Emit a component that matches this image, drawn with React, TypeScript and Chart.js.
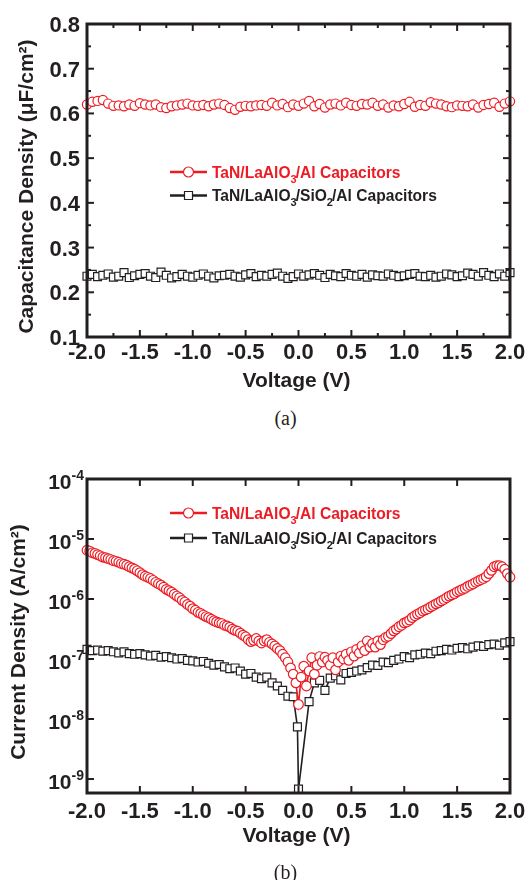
import React, { useEffect, useRef } from 'react';
import { Chart, registerables } from 'chart.js';

Chart.register(...registerables);

const FONT = '"Liberation Sans", Arial, Helvetica, sans-serif';
const RED = '#ed1c24';
const INK = '#231f20';

// ---------- axis ticks ----------
const voltTicks = [-2.0, -1.5, -1.0, -0.5, 0.0, 0.5, 1.0, 1.5, 2.0];
const voltMinor = [-1.75, -1.25, -0.75, -0.25, 0.25, 0.75, 1.25, 1.75];
const capTicks = [0.1, 0.2, 0.3, 0.4, 0.5, 0.6, 0.7, 0.8];
const capMinor = [0.15, 0.25, 0.35, 0.45, 0.55, 0.65, 0.75];
const jDecades = [-4, -5, -6, -7, -8, -9];

// ---------- (a) C-V data, 0.05 V sweep ----------
const cvStart = -2.0;
const cvStep = 0.05;
const capLaAlO = [
  0.620, 0.626, 0.628, 0.630, 0.622, 0.617, 0.618, 0.616, 0.620, 0.617,
  0.623, 0.620, 0.618, 0.620, 0.614, 0.612, 0.616, 0.618, 0.620, 0.622,
  0.618, 0.617, 0.619, 0.616, 0.620, 0.622, 0.619, 0.612, 0.608, 0.615,
  0.617, 0.616, 0.618, 0.619, 0.617, 0.624, 0.618, 0.621, 0.614, 0.620,
  0.617, 0.622, 0.628, 0.616, 0.621, 0.613, 0.620, 0.622, 0.618, 0.624,
  0.619, 0.617, 0.621, 0.620, 0.624, 0.617, 0.620, 0.613, 0.618, 0.616,
  0.621, 0.626, 0.615, 0.619, 0.617, 0.625, 0.622, 0.620, 0.616, 0.614,
  0.618, 0.617, 0.616, 0.620, 0.613, 0.619, 0.621, 0.624, 0.615, 0.622,
  0.627,
];
const capLaAlOSiO = [
  0.236, 0.240, 0.235, 0.238, 0.241, 0.234, 0.236, 0.244, 0.233, 0.237,
  0.240, 0.242, 0.236, 0.233, 0.245, 0.238, 0.232, 0.235, 0.240, 0.236,
  0.234, 0.238, 0.241, 0.236, 0.232, 0.237, 0.238, 0.240, 0.236, 0.234,
  0.239, 0.242, 0.235, 0.238, 0.236, 0.240, 0.243, 0.236, 0.231, 0.235,
  0.241, 0.236, 0.239, 0.242, 0.238, 0.233, 0.240, 0.237, 0.235, 0.242,
  0.238, 0.236, 0.240, 0.234, 0.239, 0.237, 0.236, 0.241, 0.238, 0.235,
  0.237, 0.240, 0.242, 0.236, 0.235, 0.238, 0.234, 0.236, 0.241, 0.239,
  0.235, 0.237, 0.243, 0.240, 0.236, 0.244, 0.238, 0.235, 0.241, 0.236,
  0.244,
];

// ---------- (b) J-V data ----------
const ivStart = -2.0;
const ivStep = 0.025;
const jLaAlO = [
  6.5e-6, 6.3e-6, 5.9e-6, 5.75e-6, 5.5e-6, 5.25e-6, 5.0e-6, 4.9e-6, 4.7e-6, 4.55e-6,
  4.35e-6, 4.25e-6, 4.1e-6, 3.9e-6, 3.8e-6, 3.65e-6, 3.45e-6, 3.3e-6, 3.15e-6, 2.95e-6,
  2.75e-6, 2.55e-6, 2.4e-6, 2.3e-6, 2.2e-6, 2.05e-6, 1.9e-6, 1.8e-6, 1.7e-6, 1.58e-6,
  1.45e-6, 1.38e-6, 1.3e-6, 1.2e-6, 1.12e-6, 1.05e-6, 9.5e-7, 8.9e-7, 8.1e-7, 7.6e-7,
  6.9e-7, 6.5e-7, 6.0e-7, 5.75e-7, 5.4e-7, 5.1e-7, 4.9e-7, 4.6e-7, 4.35e-7, 4.15e-7,
  4.0e-7, 3.9e-7, 3.65e-7, 3.55e-7, 3.4e-7, 3.15e-7, 3.0e-7, 2.9e-7, 2.7e-7, 2.5e-7,
  2.35e-7, 2.1e-7, 1.95e-7, 2.05e-7, 2.2e-7, 2.0e-7, 1.85e-7, 2.0e-7, 2.1e-7, 1.9e-7,
  1.78e-7, 1.65e-7, 1.5e-7, 1.38e-7, 1.2e-7, 1.05e-7, 8.9e-8, 7.1e-8, 5.6e-8, 4.0e-8,
  1.75e-8,
  5.0e-8, 7.6e-8, 3.55e-8, 6.3e-8, 1.05e-7, 5.6e-8, 7.9e-8, 1.1e-7, 8.9e-8, 1.07e-7,
  9.5e-8, 7.9e-8, 1.05e-7, 6.6e-8, 8.9e-8, 1.12e-7, 1.0e-7, 1.2e-7, 9.5e-8, 1.32e-7,
  1.12e-7, 1.45e-7, 1.26e-7, 1.66e-7, 1.38e-7, 2.0e-7, 1.58e-7, 1.82e-7, 1.58e-7, 2.0e-7,
  1.74e-7, 2.1e-7, 2.3e-7, 2.4e-7, 2.65e-7, 2.95e-7, 3.15e-7, 3.45e-7, 3.65e-7, 4.0e-7,
  4.15e-7, 4.45e-7, 4.9e-7, 5.25e-7, 5.6e-7, 5.9e-7, 6.3e-7, 6.6e-7, 6.9e-7, 7.4e-7,
  7.8e-7, 8.3e-7, 8.7e-7, 9.3e-7, 9.8e-7, 1.05e-6, 1.12e-6, 1.17e-6, 1.23e-6, 1.32e-6,
  1.38e-6, 1.45e-6, 1.51e-6, 1.62e-6, 1.7e-6, 1.78e-6, 1.9e-6, 2.0e-6, 2.1e-6, 2.2e-6,
  2.35e-6, 2.65e-6, 3.0e-6, 3.45e-6, 3.6e-6, 3.6e-6, 3.45e-6, 3.15e-6, 2.65e-6, 2.3e-6,
];
const vLaAlOSiO = [
  -2.00, -1.95, -1.90, -1.85, -1.80, -1.75, -1.70, -1.65, -1.60, -1.55,
  -1.50, -1.45, -1.40, -1.35, -1.30, -1.25, -1.20, -1.15, -1.10, -1.05,
  -1.00, -0.95, -0.90, -0.85, -0.80, -0.75, -0.70, -0.65, -0.60, -0.55,
  -0.50, -0.45, -0.40, -0.35, -0.30, -0.25, -0.20, -0.15, -0.10, -0.05,
  -0.01, 0.00,
  0.10, 0.15, 0.20, 0.25, 0.30, 0.35, 0.40, 0.45, 0.50, 0.55,
  0.60, 0.65, 0.70, 0.75, 0.80, 0.85, 0.90, 0.95, 1.00, 1.05,
  1.10, 1.15, 1.20, 1.25, 1.30, 1.35, 1.40, 1.45, 1.50, 1.55,
  1.60, 1.65, 1.70, 1.75, 1.80, 1.85, 1.90, 1.95, 2.00,
];
const jLaAlOSiO = [
  1.45e-7, 1.38e-7, 1.41e-7, 1.35e-7, 1.38e-7, 1.32e-7, 1.26e-7, 1.32e-7, 1.23e-7, 1.2e-7,
  1.23e-7, 1.17e-7, 1.12e-7, 1.15e-7, 1.07e-7, 1.1e-7, 1.05e-7, 1.0e-7, 1.02e-7, 9.5e-8,
  9.3e-8, 8.9e-8, 9.1e-8, 8.5e-8, 7.9e-8, 8.1e-8, 7.4e-8, 6.9e-8, 7.1e-8, 6.3e-8,
  5.6e-8, 5.75e-8, 5.0e-8, 4.7e-8, 5.0e-8, 4.0e-8, 3.55e-8, 3.0e-8, 2.4e-8, 2.35e-8,
  7.4e-9, 6.8e-10,
  1.95e-8, 4.0e-8, 4.4e-8, 3.0e-8, 4.8e-8, 5.25e-8, 4.5e-8, 5.75e-8, 6.0e-8, 6.3e-8,
  6.6e-8, 7.2e-8, 7.9e-8, 7.8e-8, 8.9e-8, 8.7e-8, 9.5e-8, 1.0e-7, 1.1e-7, 1.05e-7,
  1.17e-7, 1.2e-7, 1.26e-7, 1.23e-7, 1.35e-7, 1.38e-7, 1.45e-7, 1.41e-7, 1.51e-7, 1.55e-7,
  1.48e-7, 1.58e-7, 1.66e-7, 1.62e-7, 1.74e-7, 1.78e-7, 1.7e-7, 1.86e-7, 1.95e-7,
];

const seriesRed = [
  { t: 'TaN/LaAlO' }, { t: '3', sub: true }, { t: '/Al Capacitors' },
];
const seriesBlack = [
  { t: 'TaN/LaAlO' }, { t: '3', sub: true }, { t: '/SiO' }, { t: '2', sub: true }, { t: '/Al Capacitors' },
];

function sweepPoints(start: number, step: number, ys: number[]) {
  return ys.map((y, i) => ({ x: Math.round((start + i * step) * 1000) / 1000, y }));
}

type Part = { t: string; sub?: boolean };
type LegendItem = { parts: Part[]; color: string; marker: 'circle' | 'rect'; y: number };
type Decor = {
  yKind: 'linear' | 'pow10';
  xMinor: number[];
  yMajor: number[];
  yMinor: number[];
  xLabelDy: number;
  xTitleY: number;
  yTitle: string;
  yTitleX: number;
  legend: LegendItem[];
};

function drawParts(ctx: CanvasRenderingContext2D, parts: Part[], x: number, y: number, color: string) {
  let cx = x;
  ctx.fillStyle = color;
  ctx.textAlign = 'left';
  ctx.textBaseline = 'alphabetic';
  for (const p of parts) {
    if (p.sub) {
      ctx.font = `bold 11px ${FONT}`;
      ctx.fillText(p.t, cx, y + 5);
      cx += ctx.measureText(p.t).width - 1;
    } else {
      ctx.font = `bold 15.6px ${FONT}`;
      ctx.fillText(p.t, cx, y);
      cx += ctx.measureText(p.t).width;
    }
  }
}

function makeDecor(cfg: Decor) {
  return {
    id: 'decor',
    afterDatasetsDraw(chart: any) {
      const ctx: CanvasRenderingContext2D = chart.ctx;
      const { left, right, top, bottom } = chart.chartArea;
      const xs = chart.scales.x;
      const ys = chart.scales.y;
      ctx.save();
      ctx.strokeStyle = INK;
      ctx.lineCap = 'butt';
      const seg = (x1: number, y1: number, x2: number, y2: number, w: number) => {
        ctx.lineWidth = w;
        ctx.beginPath();
        ctx.moveTo(x1, y1);
        ctx.lineTo(x2, y2);
        ctx.stroke();
      };
      const MAJ = 7;
      const MIN = 4;
      for (const v of voltTicks) {
        const px = xs.getPixelForValue(v);
        seg(px, bottom, px, bottom - MAJ, 2);
        seg(px, top, px, top + MAJ, 2);
      }
      for (const v of cfg.xMinor) {
        const px = xs.getPixelForValue(v);
        seg(px, bottom, px, bottom - MIN, 2);
        seg(px, top, px, top + MIN, 2);
      }
      for (const v of cfg.yMajor) {
        const py = ys.getPixelForValue(v);
        seg(left, py, left + MAJ, py, 2);
        seg(right, py, right - MAJ, py, 2);
      }
      for (const v of cfg.yMinor) {
        const py = ys.getPixelForValue(v);
        seg(left, py, left + MIN, py, 2);
        seg(right, py, right - MIN, py, 2);
      }
      ctx.lineWidth = 3;
      ctx.strokeRect(left, top, right - left, bottom - top);

      // tick labels
      ctx.fillStyle = INK;
      ctx.textBaseline = 'alphabetic';
      ctx.font = `bold 22px ${FONT}`;
      ctx.textAlign = 'center';
      for (const v of voltTicks) {
        ctx.fillText(v.toFixed(1), xs.getPixelForValue(v), bottom + cfg.xLabelDy);
      }
      if (cfg.yKind === 'linear') {
        ctx.textAlign = 'right';
        for (const v of capTicks) {
          ctx.fillText(v.toFixed(1), left - 7, ys.getPixelForValue(v) + 8);
        }
      } else {
        ctx.textAlign = 'right';
        for (const d of jDecades) {
          const py = ys.getPixelForValue(Math.pow(10, d));
          const sup = '-' + Math.abs(d);
          ctx.font = `bold 14px ${FONT}`;
          const w = ctx.measureText(sup).width;
          ctx.fillText(sup, left - 3, py + 1);
          ctx.font = `bold 21px ${FONT}`;
          ctx.fillText('10', left - 3 - w, py + 10);
        }
      }

      // axis titles
      ctx.font = `bold 21px ${FONT}`;
      ctx.textAlign = 'center';
      ctx.fillText('Voltage (V)', (left + right) / 2 - 2, cfg.xTitleY);
      ctx.save();
      ctx.translate(cfg.yTitleX, (top + bottom) / 2 + 6);
      ctx.rotate(-Math.PI / 2);
      ctx.fillText(cfg.yTitle, 0, 0);
      ctx.restore();

      // legend
      for (const item of cfg.legend) {
        ctx.strokeStyle = item.color;
        seg(170, item.y, 207, item.y, 2.5);
        ctx.lineWidth = 1.2;
        ctx.fillStyle = '#ffffff';
        ctx.beginPath();
        if (item.marker === 'circle') {
          ctx.arc(188.5, item.y, 5, 0, Math.PI * 2);
        } else {
          ctx.rect(184.5, item.y - 4, 8, 8);
        }
        ctx.fill();
        ctx.stroke();
        drawParts(ctx, item.parts, 212, item.y + 5.5, item.color);
      }
      ctx.restore();
    },
  };
}

function baseScales(xHeight: number) {
  return {
    x: {
      type: 'linear',
      min: -2,
      max: 2,
      ticks: { display: false },
      grid: { display: false },
      border: { display: false },
      afterFit: (s: any) => {
        s.height = xHeight;
        s.paddingLeft = 0;
        s.paddingRight = 0;
      },
    },
  };
}

function fitY(s: any) {
  s.width = 87;
  s.paddingTop = 0;
  s.paddingBottom = 0;
}

export default function App() {
  const topRef = useRef<HTMLCanvasElement>(null);
  const botRef = useRef<HTMLCanvasElement>(null);

  useEffect(() => {
    const redDs = {
      borderColor: RED,
      pointBorderColor: RED,
      pointBackgroundColor: '#ffffff',
      backgroundColor: '#ffffff',
      pointStyle: 'circle',
      pointRadius: 4.6,
      pointBorderWidth: 1.2,
      borderWidth: 1.6,
      tension: 0,
      clip: false,
    };
    const blackDs = {
      borderColor: INK,
      pointBorderColor: INK,
      pointBackgroundColor: '#ffffff',
      backgroundColor: '#ffffff',
      pointStyle: 'rect',
      pointRadius: 5.6,
      pointBorderWidth: 1.2,
      borderWidth: 1.6,
      tension: 0,
      clip: false,
    };

    const top = new Chart(topRef.current as HTMLCanvasElement, {
      type: 'line',
      data: {
        datasets: [
          { ...redDs, label: 'TaN/LaAlO3/Al Capacitors', data: sweepPoints(cvStart, cvStep, capLaAlO) },
          { ...blackDs, label: 'TaN/LaAlO3/SiO2/Al Capacitors', data: sweepPoints(cvStart, cvStep, capLaAlOSiO) },
        ],
      } as any,
      options: {
        responsive: false,
        animation: false,
        events: [],
        layout: { padding: { top: 24, right: 18, left: 0, bottom: 0 } },
        plugins: { legend: { display: false }, tooltip: { enabled: false } },
        scales: {
          ...baseScales(68),
          y: {
            type: 'linear',
            min: 0.1,
            max: 0.8,
            ticks: { display: false },
            grid: { display: false },
            border: { display: false },
            afterFit: fitY,
          },
        },
      } as any,
      plugins: [
        makeDecor({
          yKind: 'linear',
          xMinor: voltMinor,
          yMajor: capTicks,
          yMinor: capMinor,
          xLabelDy: 22,
          xTitleY: 387,
          yTitle: 'Capacitance Density (\u03bcF/cm\u00b2)',
          yTitleX: 33,
          legend: [
            { parts: seriesRed, color: RED, marker: 'circle', y: 172 },
            { parts: seriesBlack, color: INK, marker: 'rect', y: 195.5 },
          ],
        }),
      ] as any,
    });

    const bot = new Chart(botRef.current as HTMLCanvasElement, {
      type: 'line',
      data: {
        datasets: [
          { ...redDs, pointRadius: 4.8, label: 'TaN/LaAlO3/Al Capacitors', data: sweepPoints(ivStart, ivStep, jLaAlO) },
          {
            ...blackDs,
            label: 'TaN/LaAlO3/SiO2/Al Capacitors',
            data: vLaAlOSiO.map((x, i) => ({ x, y: jLaAlOSiO[i] })),
          },
        ],
      } as any,
      options: {
        responsive: false,
        animation: false,
        events: [],
        layout: { padding: { top: 49, right: 18, left: 0, bottom: 0 } },
        plugins: { legend: { display: false }, tooltip: { enabled: false } },
        scales: {
          ...baseScales(87),
          y: {
            type: 'logarithmic',
            min: 5.85e-10,
            max: 1e-4,
            ticks: { display: false },
            grid: { display: false },
            border: { display: false },
            afterFit: fitY,
          },
        },
      } as any,
      plugins: [
        makeDecor({
          yKind: 'pow10',
          xMinor: [],
          yMajor: jDecades.map((d) => Math.pow(10, d)),
          yMinor: [],
          xLabelDy: 25,
          xTitleY: 412,
          yTitle: 'Current Density (A/cm\u00b2)',
          yTitleX: 25,
          legend: [
            { parts: seriesRed, color: RED, marker: 'circle', y: 83 },
            { parts: seriesBlack, color: INK, marker: 'rect', y: 108 },
          ],
        }),
      ] as any,
    });

    return () => {
      top.destroy();
      bot.destroy();
    };
  }, []);

  const capStyle: React.CSSProperties = {
    position: 'absolute',
    left: 235,
    width: 101,
    textAlign: 'center',
    fontFamily: '"Liberation Serif", "Times New Roman", serif',
    fontSize: 20,
    lineHeight: '20px',
    color: INK,
  };

  return (
    <div style={{ position: 'absolute', left: 0, top: 0, width: 528, height: 880, background: '#ffffff', overflow: 'hidden' }}>
      <canvas ref={topRef} width={528} height={405} style={{ position: 'absolute', left: 0, top: 0, width: 528, height: 405 }} />
      <canvas ref={botRef} width={528} height={450} style={{ position: 'absolute', left: 0, top: 430, width: 528, height: 450 }} />
      <div style={{ ...capStyle, top: 408 }}>(a)</div>
      <div style={{ ...capStyle, top: 862 }}>(b)</div>
    </div>
  );
}
